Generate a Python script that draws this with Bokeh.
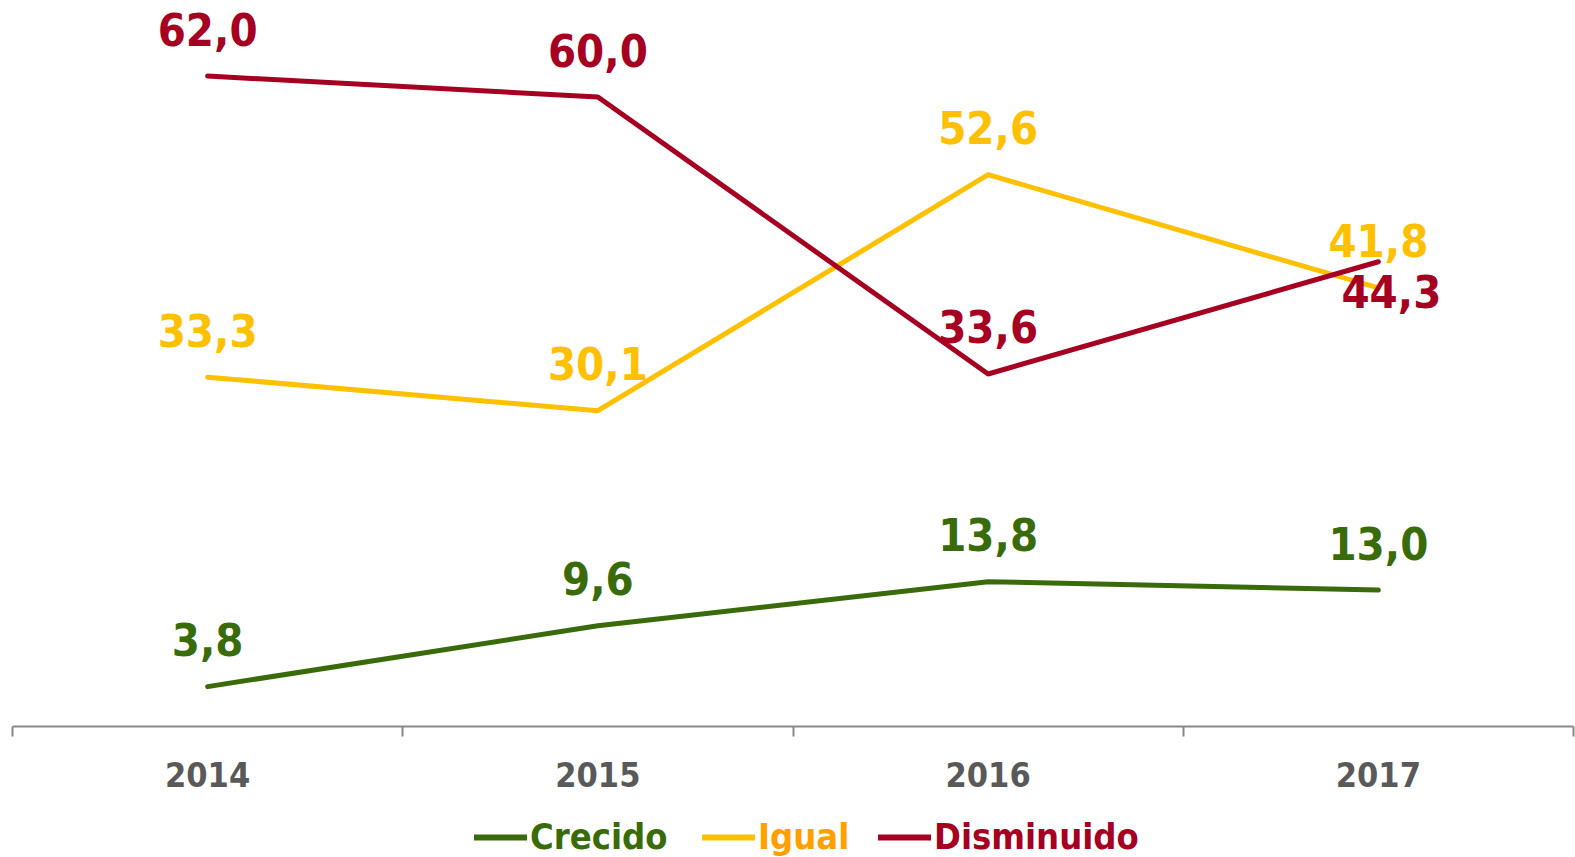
from bokeh.plotting import figure
from bokeh.layouts import column
from bokeh.models import Range1d, FixedTicker, Legend, LegendItem, ColumnDataSource
from bokeh.core.properties import value
from bokeh.embed import file_html
from bokeh.resources import INLINE

years = ["2014", "2015", "2016", "2017"]
crecido = [3.8, 9.6, 13.8, 13.0]
igual = [33.3, 30.1, 52.6, 41.8]
disminuido = [62.0, 60.0, 33.6, 44.3]

series_names = ["Crecido", "Igual", "Disminuido"]
series_values = [crecido, igual, disminuido]

# styles
line_colors = {"Crecido": "#3A6B0A", "Igual": "#FFC000", "Disminuido": "#A50021"}
legend_text_colors = {"Crecido": "#3A6B0A", "Igual": "#FF9F00", "Disminuido": "#A50021"}
label_offset = (0, -47)
label_offset_override = {("Disminuido", "2017"): (13, 30)}
legend_locs = {"Crecido": (462, 0), "Igual": (690, 0), "Disminuido": (866, 0)}
FONT = "DejaVu Sans Condensed"

xs = [i + 0.5 for i in range(len(years))]

p = figure(width=1575, height=800, output_backend="svg", toolbar_location=None,
           x_range=Range1d(0, len(years)), y_range=Range1d(0, 69.2),
           y_axis_location=None,
           min_border_left=12, min_border_right=2, min_border_top=0, min_border_bottom=74)
p.outline_line_color = None
p.grid.visible = False

ax = p.xaxis[0]
ax.ticker = FixedTicker(ticks=xs, minor_ticks=list(range(len(years) + 1)))
ax.major_label_overrides = {x: y for x, y in zip(xs, years)}
ax.major_tick_line_color = None
ax.major_tick_out = 0
ax.major_tick_in = 0
ax.minor_tick_out = 10
ax.minor_tick_in = 0
ax.minor_tick_line_color = "#888888"
ax.minor_tick_line_width = 2
ax.axis_line_color = "#888888"
ax.axis_line_width = 2
ax.major_label_text_font = FONT
ax.major_label_text_font_style = "bold"
ax.major_label_text_font_size = "34px"
ax.major_label_text_color = "#595959"
ax.major_label_standoff = 25

leg_fig = figure(width=1575, height=57, output_backend="svg", toolbar_location=None,
                 x_range=Range1d(0, 1), y_range=Range1d(0, 1),
                 x_axis_location=None, y_axis_location=None,
                 min_border_left=0, min_border_right=0, min_border_top=0, min_border_bottom=0)
leg_fig.outline_line_color = None
leg_fig.grid.visible = False

for name, vals in zip(series_names, series_values):
    col = line_colors[name]
    offs = [label_offset_override.get((name, y), label_offset) for y in years]
    src = ColumnDataSource(dict(
        x=xs, y=vals,
        txt=[f"{v:.1f}".replace(".", ",") for v in vals],
        xo=[o[0] for o in offs], yo=[o[1] for o in offs],
    ))
    p.line("x", "y", source=src, line_color=col, line_width=5, line_cap="round")
    p.text("x", "y", text="txt", source=src, x_offset="xo", y_offset="yo",
           text_align="center", text_baseline="middle",
           text_font=value(FONT), text_font_style="bold",
           text_font_size="45px", text_color=col)
    # legend sample line (kept outside the visible range of the legend strip)
    r = leg_fig.line(x=[-5, -4], y=[-5, -5], line_color=col, line_width=6, line_cap="round")
    leg = Legend(items=[LegendItem(label=name, renderers=[r])],
                 location=legend_locs[name], orientation="horizontal",
                 label_text_color=legend_text_colors[name],
                 label_text_font=FONT, label_text_font_style="bold",
                 label_text_font_size="36px", glyph_width=53, label_standoff=3,
                 padding=0, margin=0, border_line_color=None, background_fill_alpha=0)
    leg_fig.add_layout(leg)

layout = column(p, leg_fig, spacing=0)
open("out.html", "w").write(file_html(layout, INLINE))
